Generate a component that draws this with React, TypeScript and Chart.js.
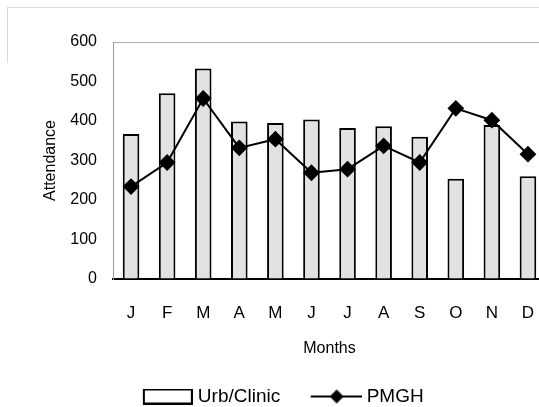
import React, { useEffect, useRef } from "react";
import { Chart, registerables } from "chart.js";

Chart.register(...registerables);

const months = ["J", "F", "M", "A", "M", "J", "J", "A", "S", "O", "N", "D"];
const urbClinic = [367, 470, 533, 399, 395, 404, 382, 387, 360, 254, 390, 260];
const pmgh = [234, 295, 457, 332, 354, 269, 278, 337, 295, 432, 402, 316];
const yTicks = [0, 100, 200, 300, 400, 500, 600];

const FONT = "'Liberation Sans', Arial, sans-serif";

// Legend icons: 59px wide images whose drawn symbol sits at the right end (50px)
function makeBoxIcon() {
  const c = document.createElement("canvas");
  c.width = 59;
  c.height = 16;
  const g = c.getContext("2d")!;
  g.fillStyle = "#ffffff";
  g.fillRect(10, 1, 48, 14);
  g.strokeStyle = "#000";
  g.lineWidth = 2;
  g.strokeRect(10, 1, 48, 14);
  return c;
}

function makeLineIcon() {
  const c = document.createElement("canvas");
  c.width = 59;
  c.height = 16;
  const g = c.getContext("2d")!;
  g.strokeStyle = "#000";
  g.lineWidth = 2;
  g.beginPath();
  g.moveTo(8, 8);
  g.lineTo(59, 8);
  g.stroke();
  g.fillStyle = "#000";
  g.beginPath();
  g.moveTo(34, 1);
  g.lineTo(41, 8);
  g.lineTo(34, 15);
  g.lineTo(27, 8);
  g.closePath();
  g.fill();
  return c;
}

export default function App() {
  const ref = useRef<HTMLCanvasElement>(null);
  useEffect(() => {
    const boxIcon = makeBoxIcon();
    const lineIcon = makeLineIcon();
    const chart = new Chart(ref.current!, {
      type: "bar",
      data: {
        labels: months,
        datasets: [
          {
            type: "bar",
            label: "Urb/Clinic",
            data: urbClinic,
            backgroundColor: "#e2e2e2",
            borderColor: "#000",
            borderWidth: 2,
            barPercentage: 0.46,
            categoryPercentage: 1,
            order: 2,
          },
          {
            type: "line",
            label: "PMGH",
            data: pmgh,
            borderColor: "#000",
            backgroundColor: "#000",
            borderWidth: 2,
            pointStyle: "rectRot",
            pointRadius: 7,
            pointBackgroundColor: "#000",
            pointBorderColor: "#000",
            tension: 0,
            order: 1,
          },
        ],
      },
      options: {
        animation: false,
        responsive: false,
        devicePixelRatio: 1,
        layout: { padding: { left: 16, right: 14, top: 42, bottom: 0 } },
        plugins: {
          tooltip: { enabled: false },
          legend: {
            position: "bottom",
            maxHeight: 47,
            labels: {
              usePointStyle: true,
              pointStyleWidth: 50,
              boxHeight: 16,
              padding: 27,
              color: "#000",
              font: { family: FONT, size: 19 },
              generateLabels: () => [
                {
                  text: "Urb/Clinic",
                  pointStyle: boxIcon as any,
                  datasetIndex: 0,
                  lineWidth: 0,
                  hidden: false,
                  fontColor: "#000",
                },
                {
                  text: "PMGH",
                  pointStyle: lineIcon as any,
                  datasetIndex: 1,
                  lineWidth: 0,
                  hidden: false,
                  fontColor: "#000",
                },
              ],
            },
          },
        },
        scales: {
          x: {
            grid: { display: false, drawTicks: false },
            border: { color: "#000", width: 2 },
            ticks: { color: "#000", padding: 24, font: { family: FONT, size: 17 } },
            title: {
              display: true,
              text: "Months",
              color: "#000",
              padding: { top: 0, bottom: 2 },
              font: { family: FONT, size: 16 },
            },
            afterFit: (s: any) => {
              s.height = 81;
            },
          },
          y: {
            min: 0,
            max: 600,
            afterBuildTicks: (s: any) => {
              s.ticks = yTicks.map((v) => ({ value: v }));
            },
            grid: {
              drawTicks: false,
              color: (c: any) => (c.tick && c.tick.value === 600 ? "#b0b0b0" : "transparent"),
            },
            border: { color: "#9a9a9a", width: 1 },
            ticks: { color: "#000", padding: 16, font: { family: FONT, size: 16 } },
            title: {
              display: true,
              text: "Attendance",
              color: "#000",
              padding: { top: 25, bottom: 0 },
              font: { family: FONT, size: 16 },
            },
            afterFit: (s: any) => {
              s.width = 97;
            },
          },
        },
      },
    });
    return () => chart.destroy();
  }, []);
  return (
    <div
      style={{
        position: "fixed",
        left: 0,
        top: 0,
        width: 539,
        height: 407,
        overflow: "hidden",
        background: "#fff",
      }}
    >
      <div style={{ position: "absolute", left: 7, top: 7, width: 540, height: 0, borderTop: "1px solid #d8d8d8" }} />
      <div style={{ position: "absolute", left: 7, top: 7, width: 0, height: 56, borderLeft: "1px solid #d8d8d8" }} />
      <canvas
        ref={ref}
        width={560}
        height={407}
        style={{ position: "absolute", left: 0, top: 0, width: 560, height: 407 }}
      />
    </div>
  );
}
